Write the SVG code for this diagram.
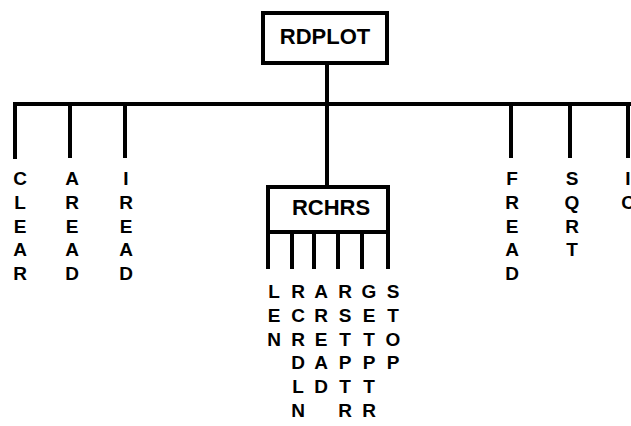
<svg xmlns="http://www.w3.org/2000/svg" width="631" height="426" viewBox="0 0 631 426">
<style>
.box{fill:#fff;stroke:#000;stroke-width:4}
.ln{stroke:#000;stroke-width:4;fill:none}
.t{font-family:"Liberation Sans",Arial,sans-serif;font-weight:bold;fill:#000;text-anchor:middle}
.big{font-size:22px}
.v{font-size:19px}
</style>
<rect width="631" height="426" fill="#fff"/>
<g id="connectors">
<path class="ln" d="M15,159 V104 H631"/>
<path class="ln" d="M70,104 V158 M125,104 V158 M511,104 V158 M570,104 V158 M628,104 V158"/>
<path class="ln" d="M327,63 V187"/>
<path class="ln" d="M268,232 V269 M292,232 V269 M314,232 V269 M338,232 V269 M362,232 V269 M388,232 V269"/>
</g>
<g id="RDPLOT">
<rect class="box" x="263" y="13" width="124" height="50"/>
<text class="t big" x="325" y="44">RDPLOT</text>
</g>
<g id="RCHRS">
<rect class="box" x="268" y="187" width="120" height="45"/>
<text class="t big" x="331" y="215">RCHRS</text>
</g>
<g id="CLEAR"><text class="t v" y="185"><tspan x="20">C</tspan><tspan x="20" dy="23.75">L</tspan><tspan x="20" dy="23.75">E</tspan><tspan x="20" dy="23.75">A</tspan><tspan x="20" dy="23.75">R</tspan></text></g>
<g id="AREAD"><text class="t v" y="185"><tspan x="72">A</tspan><tspan x="72" dy="23.75">R</tspan><tspan x="72" dy="23.75">E</tspan><tspan x="72" dy="23.75">A</tspan><tspan x="72" dy="23.75">D</tspan></text></g>
<g id="IREAD"><text class="t v" y="185"><tspan x="126">I</tspan><tspan x="126" dy="23.75">R</tspan><tspan x="126" dy="23.75">E</tspan><tspan x="126" dy="23.75">A</tspan><tspan x="126" dy="23.75">D</tspan></text></g>
<g id="FREAD"><text class="t v" y="185"><tspan x="512">F</tspan><tspan x="512" dy="23.75">R</tspan><tspan x="512" dy="23.75">E</tspan><tspan x="512" dy="23.75">A</tspan><tspan x="512" dy="23.75">D</tspan></text></g>
<g id="SQRT"><text class="t v" y="185"><tspan x="572">S</tspan><tspan x="572" dy="23.75">Q</tspan><tspan x="572" dy="23.75">R</tspan><tspan x="572" dy="23.75">T</tspan></text></g>
<g id="IC"><text class="t v" y="185"><tspan x="628">I</tspan><tspan x="628" dy="23.75">C</tspan></text></g>
<g id="LEN"><text class="t v" y="298"><tspan x="274">L</tspan><tspan x="274" dy="23.75">E</tspan><tspan x="274" dy="23.75">N</tspan></text></g>
<g id="RCRDLN"><text class="t v" y="298"><tspan x="298">R</tspan><tspan x="298" dy="23.75">C</tspan><tspan x="298" dy="23.75">R</tspan><tspan x="298" dy="23.75">D</tspan><tspan x="298" dy="23.75">L</tspan><tspan x="298" dy="23.75">N</tspan></text></g>
<g id="AREAD2"><text class="t v" y="298"><tspan x="321">A</tspan><tspan x="321" dy="23.75">R</tspan><tspan x="321" dy="23.75">E</tspan><tspan x="321" dy="23.75">A</tspan><tspan x="321" dy="23.75">D</tspan></text></g>
<g id="RSTPTR"><text class="t v" y="298"><tspan x="345">R</tspan><tspan x="345" dy="23.75">S</tspan><tspan x="345" dy="23.75">T</tspan><tspan x="345" dy="23.75">P</tspan><tspan x="345" dy="23.75">T</tspan><tspan x="345" dy="23.75">R</tspan></text></g>
<g id="GETPTR"><text class="t v" y="298"><tspan x="369">G</tspan><tspan x="369" dy="23.75">E</tspan><tspan x="369" dy="23.75">T</tspan><tspan x="369" dy="23.75">P</tspan><tspan x="369" dy="23.75">T</tspan><tspan x="369" dy="23.75">R</tspan></text></g>
<g id="STOP"><text class="t v" y="298"><tspan x="393">S</tspan><tspan x="393" dy="23.75">T</tspan><tspan x="393" dy="23.75">O</tspan><tspan x="393" dy="23.75">P</tspan></text></g>
</svg>
